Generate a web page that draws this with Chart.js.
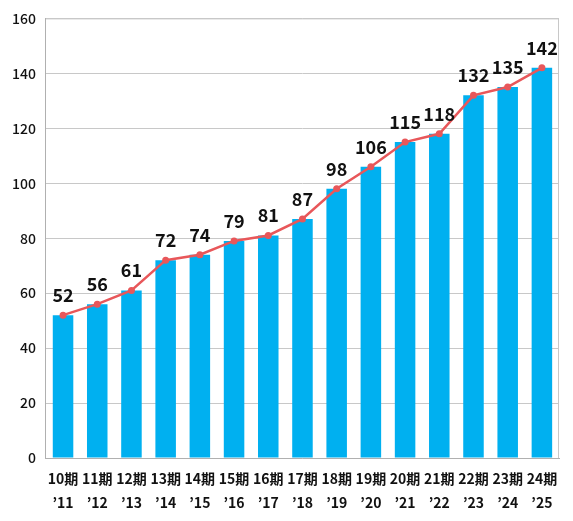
<!DOCTYPE html>
<html>
<head>
<meta charset="utf-8">
<script src="https://cdn.jsdelivr.net/npm/chart.js@4"></script>
<style>
html, body { margin: 0; padding: 0; background: #fff; }
#wrap { width: 573px; height: 521px; }
</style>
</head>
<body>
<div id="wrap"><canvas id="myChart" width="573" height="521"></canvas></div>
<script>
const periods = ['10期', '11期', '12期', '13期', '14期', '15期', '16期', '17期', '18期', '19期', '20期', '21期', '22期', '23期', '24期'];
const years = ['’11', '’12', '’13', '’14', '’15', '’16', '’17', '’18', '’19', '’20', '’21', '’22', '’23', '’24', '’25'];
const values = [52, 56, 61, 72, 74, 79, 81, 87, 98, 106, 115, 118, 132, 135, 142];

const fontFamily = '"Noto Sans CJK JP", "Noto Sans", sans-serif';

// frame + value labels above the line points
const extras = {
    id: 'extras',
    afterDraw(chart) {
        const ctx = chart.ctx;
        const a = chart.chartArea;
        ctx.save();
        ctx.strokeStyle = '#c8c8c8';
        ctx.lineWidth = 1;
        ctx.beginPath();
        ctx.moveTo(a.left, a.top + 0.5);
        ctx.lineTo(a.right - 0.5, a.top + 0.5);
        ctx.lineTo(a.right - 0.5, a.bottom);
        ctx.stroke();

        const meta = chart.getDatasetMeta(1);
        ctx.fillStyle = '#111';
        ctx.font = '600 18px ' + fontFamily;
        ctx.textAlign = 'center';
        ctx.textBaseline = 'bottom';
        meta.data.forEach((pt, i) => {
            ctx.fillText(String(values[i]), pt.x, pt.y - 11);
        });
        ctx.restore();
    }
};

const ctx1 = document.getElementById('myChart').getContext('2d');
new Chart(ctx1, {
    data: {
        labels: periods.map((p, i) => [p, years[i]]),
        datasets: [
            {
                type: 'line',
                data: values,
                borderColor: '#e8575a',
                backgroundColor: '#e8575a',
                borderWidth: 2.5,
                pointRadius: 3.5,
                pointBackgroundColor: '#e8575a',
                pointBorderWidth: 0,
                tension: 0,
                order: 0
            },
            {
                type: 'bar',
                data: values,
                backgroundColor: '#00b0f0',
                barPercentage: 0.6,
                categoryPercentage: 1,
                order: 1
            }
        ]
    },
    options: {
        responsive: false,
        animation: false,
        layout: { padding: { left: 2, right: 14, top: 9, bottom: 6 } },
        plugins: {
            legend: { display: false },
            tooltip: { enabled: false }
        },
        scales: {
            x: {
                grid: { display: false },
                border: { color: '#b0b0b0' },
                ticks: {
                    color: '#111',
                    font: { family: fontFamily, size: 14, weight: 'bold', lineHeight: 1.75 },
                    maxRotation: 0,
                    autoSkip: false,
                    padding: 0
                }
            },
            y: {
                min: 0,
                max: 160,
                ticks: {
                    stepSize: 20,
                    color: '#111',
                    font: { family: fontFamily, size: 14, weight: '500' },
                    padding: 10
                },
                grid: { color: '#c8c8c8', drawTicks: false },
                border: { color: '#b0b0b0' }
            }
        }
    },
    plugins: [extras]
});
</script>
</body>
</html>
